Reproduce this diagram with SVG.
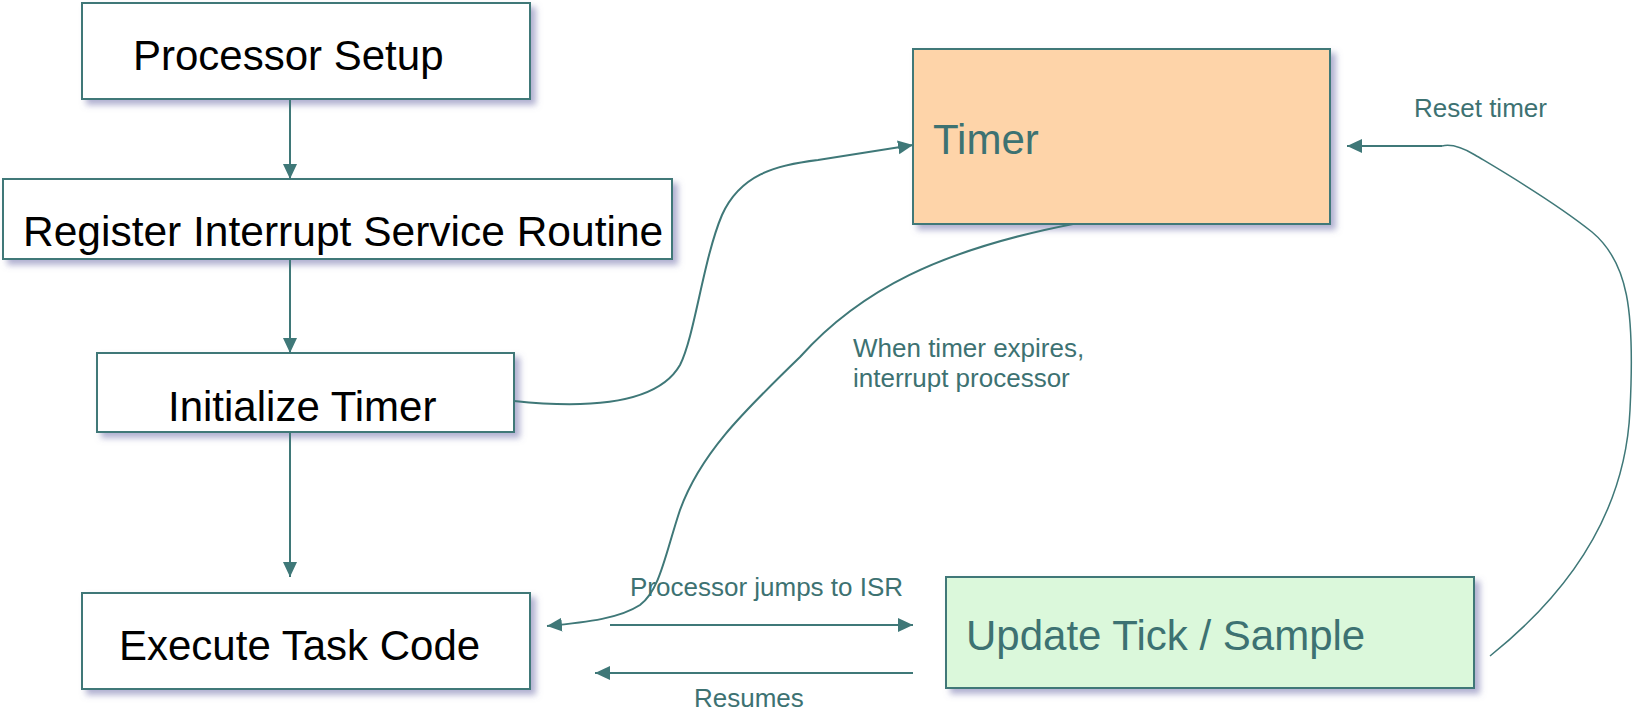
<svg xmlns="http://www.w3.org/2000/svg" width="1644" height="714" viewBox="0 0 1644 714">
  <style>
    .box { fill: #ffffff; stroke: #3f7878; stroke-width: 2; filter: url(#shadow); }
    .timer { fill: #fed4a9; }
    .isr { fill: #dbf8db; }
    .lbl { font-family: "Liberation Sans", Arial, sans-serif; font-size: 42px; fill: #000000; }
    .lbl-teal { fill: #3d7272; }
    .note { font-family: "Liberation Sans", Arial, sans-serif; font-size: 26px; fill: #3d7272; }
    .wire { fill: none; stroke: #3f7878; stroke-width: 2; }
    .wire-thin { fill: none; stroke: #3f7878; stroke-width: 1.5; }
  </style>
  <defs>
    <filter id="shadow" x="-10%" y="-10%" width="130%" height="140%">
      <feDropShadow dx="5" dy="5" stdDeviation="3" flood-color="#7070aa" flood-opacity="0.55"/>
    </filter>
    <marker id="arrow" markerUnits="userSpaceOnUse" markerWidth="16" markerHeight="16" refX="15" refY="7" orient="auto">
      <path d="M0,0 L15,7 L0,14 z" fill="#3f7878"/>
    </marker>
  </defs>

  <rect width="1644" height="714" fill="#ffffff"/>

  <!-- nodes -->
  <g id="processor-setup">
    <rect class="box" x="82" y="3" width="448" height="96"/>
    <text class="lbl" x="133" y="70">Processor Setup</text>
  </g>
  <g id="register-isr">
    <rect class="box" x="3" y="179" width="669" height="80"/>
    <text class="lbl" x="23" y="246" style="font-size:42.5px">Register Interrupt Service Routine</text>
  </g>
  <g id="initialize-timer">
    <rect class="box" x="97" y="353" width="417" height="79"/>
    <text class="lbl" x="168" y="421">Initialize Timer</text>
  </g>
  <g id="execute-task">
    <rect class="box" x="82" y="593" width="448" height="96"/>
    <text class="lbl" x="119" y="660">Execute Task Code</text>
  </g>
  <g id="timer">
    <rect class="box timer" x="913" y="49" width="417" height="175"/>
    <text class="lbl lbl-teal" x="933" y="154">Timer</text>
  </g>
  <g id="update-tick">
    <rect class="box isr" x="946" y="577" width="528" height="111"/>
    <text class="lbl lbl-teal" x="966" y="650">Update Tick / Sample</text>
  </g>

  <!-- connectors -->
  <g id="connectors">
    <path class="wire" d="M290,100 L290,179" marker-end="url(#arrow)"/>
    <path class="wire" d="M290,259 L290,353" marker-end="url(#arrow)"/>
    <path class="wire" d="M290,432 L290,577" marker-end="url(#arrow)"/>

    <path class="wire" d="M514,401 C600,410 660,400 680,365 C695,335 703,260 722,215 C740,175 775,165 818,160 L913,145" marker-end="url(#arrow)"/>

    <path class="wire" d="M1073,224 C940,250 860,290 800,357 C740,415 700,455 680,510 C665,555 660,590 640,605 C620,618 590,622 547,626" marker-end="url(#arrow)"/>

    <path class="wire" d="M610,625 L913,625" marker-end="url(#arrow)"/>
    <path class="wire" d="M913,673 L595,673" marker-end="url(#arrow)"/>

    <path class="wire-thin" d="M1490,656 C1560,600 1625,520 1630,410 C1635,310 1628,262 1592,232 C1552,200 1500,170 1475,155 C1460,146 1450,144 1442,146"/>
    <path class="wire" d="M1442,146 L1347,146" marker-end="url(#arrow)"/>

    <text class="note" x="1414" y="117">Reset timer</text>
    <text class="note" x="853" y="357">When timer expires,</text>
    <text class="note" x="853" y="387">interrupt processor</text>
    <text class="note" x="630" y="596">Processor jumps to ISR</text>
    <text class="note" x="694" y="707">Resumes</text>
  </g>
</svg>
